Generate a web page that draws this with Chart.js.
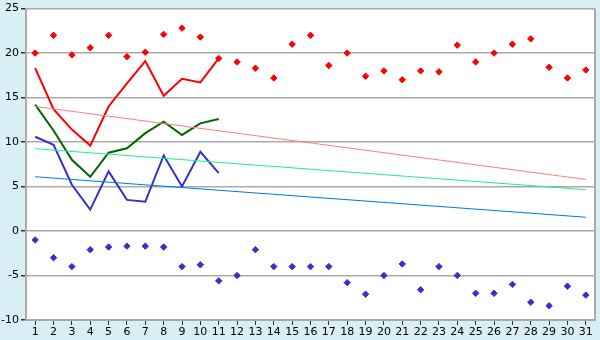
<!DOCTYPE html>
<html>
<head>
<meta charset="utf-8">
<script src="https://cdn.jsdelivr.net/npm/chart.js@4/dist/chart.umd.min.js"></script>
<style>
html,body{margin:0;padding:0;background:#d9eff6;}
#wrap{width:600px;height:340px;position:relative;}
</style>
</head>
<body>
<div id="wrap"><canvas id="c" width="600" height="340"></canvas></div>
<script>
const days = ['1','2','3','4','5','6','7','8','9','10','11','12','13','14','15','16','17','18','19','20','21','22','23','24','25','26','27','28','29','30','31'];
const yTicks = [-10,-5,0,5,10,15,20,25];

const maxPoints = [20.0,22.0,19.8,20.6,22.0,19.6,20.1,22.1,22.8,21.8,19.4,19.0,18.3,17.2,21.0,22.0,18.6,20.0,17.4,18.0,17.0,18.0,17.9,20.9,19.0,20.0,21.0,21.6,18.4,17.2,18.1];
const minPoints = [-1.0,-3.0,-4.0,-2.1,-1.8,-1.7,-1.7,-1.8,-4.0,-3.8,-5.6,-5.0,-2.1,-4.0,-4.0,-4.0,-4.0,-5.8,-7.1,-5.0,-3.7,-6.6,-4.0,-5.0,-7.0,-7.0,-6.0,-8.0,-8.4,-6.2,-7.2];

const redLine   = [18.3,13.7,11.4,9.6,14.0,16.6,19.1,15.2,17.1,16.7,19.4];
const greenLine = [14.2,11.3,8.0,6.1,8.8,9.3,11.0,12.3,10.8,12.1,12.6];
const blueLine  = [10.6,9.7,5.2,2.4,6.7,3.5,3.3,8.5,5.0,8.9,6.5];

// trend lines: start (day 1) and end (day 31) values
const redTrend   = [14.0, 5.8];
const greenTrend = [9.25, 4.65];
const blueTrend  = [6.1, 1.55];

function ends(pair){ const a = new Array(days.length).fill(null); a[0]=pair[0]; a[days.length-1]=pair[1]; return a; }

const bgPlugin = {
  id:'bg',
  beforeDraw(chart){
    const {ctx, chartArea:a} = chart;
    ctx.save();
    ctx.fillStyle = '#d9eff6';
    ctx.fillRect(0,0,chart.width,chart.height);
    ctx.fillStyle = '#ffffff';
    ctx.fillRect(a.left,a.top,a.right-a.left,a.bottom-a.top);
    ctx.restore();
  },
  afterDatasetsDraw(chart){
    const {ctx, chartArea:a} = chart;
    ctx.save();
    ctx.strokeStyle = '#aaaaaa';
    ctx.lineWidth = 2;
    ctx.beginPath();
    ctx.moveTo(a.right, a.top);
    ctx.lineTo(a.right, a.bottom);
    ctx.stroke();
    ctx.restore();
  }
};

const lineDs = (label, data, color, width) => ({
  label, data, borderColor: color, backgroundColor: color, borderWidth: width,
  pointRadius: 0, pointHoverRadius: 0, tension: 0, fill: false, spanGaps: true
});
const ptDs = (label, data, color) => ({
  label, data, showLine: false, borderColor: color, backgroundColor: color,
  pointStyle: 'rectRot', pointRadius: 3.2, pointBorderWidth: 1, pointHoverRadius: 3.2
});

new Chart(document.getElementById('c'), {
  type: 'line',
  data: {
    labels: days,
    datasets: [
      lineDs('redTrend', ends(redTrend), '#ff8080', 1),
      lineDs('greenTrend', ends(greenTrend), '#22ee88', 1),
      lineDs('blueTrend', ends(blueTrend), '#0077ee', 1),
      lineDs('red', redLine, '#ff0000', 2),
      lineDs('green', greenLine, '#006600', 2),
      lineDs('blue', blueLine, '#3333cc', 2),
      ptDs('max', maxPoints, '#ff0000'),
      ptDs('min', minPoints, '#3333cc')
    ]
  },
  options: {
    responsive: false,
    animation: false,
    devicePixelRatio: 1,
    layout: { padding: { top: 5, right: 5, left: 0, bottom: 0 } },
    plugins: { legend: { display: false }, tooltip: { enabled: false } },
    scales: {
      x: {
        type: 'category',
        offset: true,
        grid: { display: true, drawOnChartArea: false, offset: false, tickLength: 5, tickColor: '#333333', color: '#aaaaaa' },
        border: { color: '#aaaaaa', width: 2 },
        ticks: { color: '#000000', font: { family: 'DejaVu Sans', size: 11 }, padding: 1, maxRotation: 0, autoSkip: false },
        afterFit(s){ s.height = 20; }
      },
      y: {
        min: -10, max: 25,
        afterBuildTicks(s){ s.ticks = yTicks.map(v => ({ value: v })); },
        grid: { color: '#aaaaaa', lineWidth: 1.5, tickLength: 5, tickColor: '#333333' },
        border: { color: '#aaaaaa', width: 2 },
        ticks: { color: '#000000', font: { family: 'DejaVu Sans', size: 11 }, padding: 2 },
        afterFit(s){ s.width = 26; }
      }
    }
  },
  plugins: [bgPlugin]
});
</script>
</body>
</html>
